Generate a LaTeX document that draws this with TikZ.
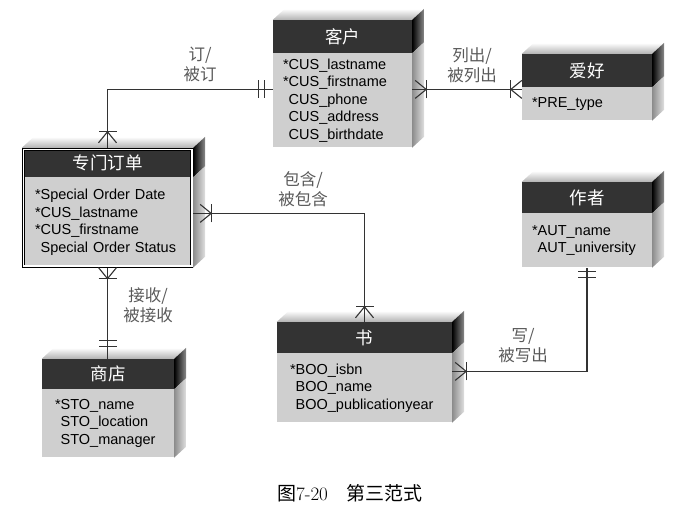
\documentclass[tikz,border=0pt]{standalone}
\usepackage{fontspec}
\newfontfamily\cjk{Noto Sans CJK SC}
\newfontfamily\attrfont{Liberation Sans}
\usetikzlibrary{positioning,calc}
\tikzstyle{ehead} = [rectangle, fill=black!80, text=white, minimum height=33pt, inner sep=0pt, font=\cjk\fontsize{17.5}{20}\selectfont]
\tikzstyle{ebody} = [rectangle, fill=black!19, inner xsep=10pt, inner ysep=0pt, align=left, font=\attrfont\fontsize{14.5}{17.5}\selectfont]
\tikzstyle{rel} = [draw=black!80, line width=1.1pt]
\tikzstyle{rellabel} = [align=center, text=black!65, inner sep=0pt, font=\cjk\fontsize{16.5}{20}\selectfont]
\tikzstyle{caption} = [inner sep=0pt, font=\fontsize{19}{22}\selectfont]
% 3D faces of an entity: #1 header node, #2 body node
\newcommand{\extrude}[2]{%
  \shade[top color=white, bottom color=black!30] (#1.north west) -- ([shift={(12,-11)}]#1.north west) -- ([shift={(12,-11)}]#1.north east) -- (#1.north east) -- cycle;
  \shade[left color=black, right color=black!45] (#1.north east) -- ([shift={(12,-11)}]#1.north east) -- ([shift={(12,-11)}]#1.south east) -- (#1.south east) -- cycle;
  \shade[left color=black!45, right color=black!12] (#2.north east) -- ([shift={(12,-11)}]#2.north east) -- ([shift={(12,-11)}]#2.south east) -- (#2.south east) -- cycle;
}
% crow's foot with bar: point, angle, gap
\newcommand{\onemany}[3]{%
  \begin{scope}[shift={(#1)}, rotate=#2]
    \draw[rel] (#3,9) -- ({#3+11},0) -- (#3,-9);
    \draw[rel] ({#3+11},9) -- ({#3+11},-9);
  \end{scope}}
% two bars: point, angle, gap
\newcommand{\onlyone}[3]{%
  \begin{scope}[shift={(#1)}, rotate=#2]
    \draw[rel] (#3,9) -- (#3,-9);
    \draw[rel] ({#3+6},9) -- ({#3+6},-9);
  \end{scope}}

\begin{document}
\begin{tikzpicture}[x=1pt, y=-1pt]
  \useasboundingbox (0,0) rectangle (699,512);

  % Entities
  \node[ehead, minimum width=139pt] (kehu) at (342.5,36.5) {客户};
  \node[ebody, text width=119pt, minimum height=94pt, below=0pt of kehu] (kehu-b)
    {{*}CUS\_lastname\\{*}CUS\_firstname\\\phantom{*}CUS\_phone\\\phantom{*}CUS\_address\\\phantom{*}CUS\_birthdate};

  \node[ehead, minimum width=130pt] (aihao) at (587,70.5) {爱好};
  \node[ebody, text width=110pt, minimum height=33pt, below=0pt of aihao] (aihao-b) {{*}PRE\_type};

  \node[ehead, minimum width=130pt, minimum height=31pt] (zuozhe) at (587,197.5) {作者};
  \node[ebody, text width=110pt, minimum height=54pt, below=0pt of zuozhe] (zuozhe-b)
    {{*}AUT\_name\\\phantom{*}AUT\_university};

  \node[ehead, minimum width=171pt, minimum height=29pt] (dingdan) at (107.5,162.5) {专门订单};
  \node[ebody, inner xsep=13pt, text width=145pt, minimum height=90pt, below=0pt of dingdan] (dingdan-b)
    {{*}Special Order Date\\{*}CUS\_lastname\\{*}CUS\_firstname\\\phantom{*}Special Order Status};

  \node[ehead, minimum width=132pt, minimum height=30pt] (shangdian) at (108,374) {商店};
  \node[ebody, inner xsep=13pt, text width=106pt, minimum height=68pt, below=0pt of shangdian] (shangdian-b)
    {{*}STO\_name\\\phantom{*}STO\_location\\\phantom{*}STO\_manager};

  \node[ehead, minimum width=175pt, minimum height=31pt] (shu) at (364.5,337.5) {书};
  \node[ebody, inner xsep=13pt, text width=149pt, minimum height=69pt, below=0pt of shu] (shu-b)
    {{*}BOO\_isbn\\\phantom{*}BOO\_name\\\phantom{*}BOO\_publicationyear};

  \extrude{kehu}{kehu-b}
  \extrude{aihao}{aihao-b}
  \extrude{zuozhe}{zuozhe-b}
  \extrude{dingdan}{dingdan-b}
  \extrude{shangdian}{shangdian-b}
  \extrude{shu}{shu-b}
  \draw[double, double distance=1.6pt, line width=0.7pt] ([shift={(1.5,1.5)}]dingdan.north west) rectangle ([shift={(-1.5,-1.5)}]dingdan-b.south east);

  % Relations
  \coordinate (p1) at ([yshift=11pt]kehu-b.west);
  \coordinate (p2) at ([yshift=11pt]kehu-b.east);
  \coordinate (p3) at (p2 -| aihao-b.west);
  \coordinate (p4) at ([yshift=9pt]dingdan-b.east);
  \coordinate (p5) at ([yshift=16.5pt]shu-b.east);
  \coordinate (p6) at (dingdan-b.south |- shangdian.north);

  \path[rel] (p1) -| (dingdan.north);
  \path[rel] (p2) -- (p3);
  \path[rel] (p4) -| (shu.north);
  \path[rel] (dingdan-b.south) -- (p6);
  \path[rel] (p5) -| (zuozhe-b.south);

  \onlyone{p1}{180}{8}
  \onemany{dingdan.north}{90}{5}
  \onemany{p2}{0}{3}
  \onemany{p3}{180}{0}
  \onemany{p4}{0}{7}
  \onemany{shu.north}{90}{4}
  \onemany{dingdan-b.south}{270}{0}
  \onlyone{p6}{90}{12}
  \onemany{p5}{0}{3}
  \onlyone{zuozhe-b.south}{270}{4}

  % Labels
  \node[rellabel] (l1) at (200,64) {订/\\被订};
  \node[rellabel] (l2) at (472,65) {列出/\\被列出};
  \node[rellabel] (l3) at (303,189) {包含/\\被包含};
  \node[rellabel] (l4) at (148,305) {接收/\\被接收};
  \node[rellabel] (l5) at (523,346) {写/\\被写出};

  \node[caption] (cap) at (350,493) {{\cjk 图}7-20\quad{\cjk 第三范式}};
\end{tikzpicture}
\end{document}
